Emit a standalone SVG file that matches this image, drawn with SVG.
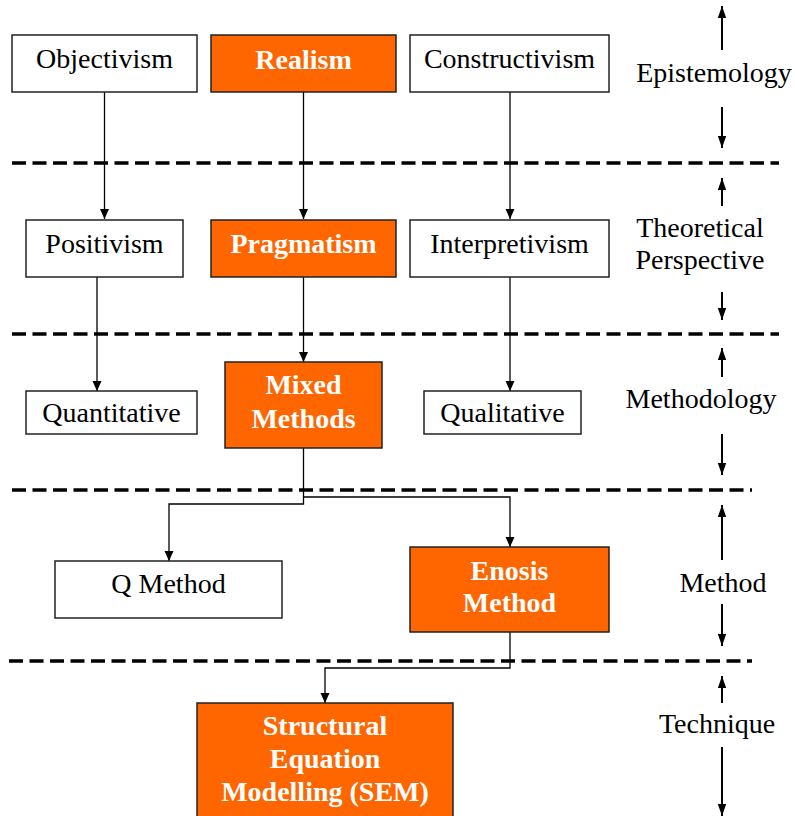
<svg xmlns="http://www.w3.org/2000/svg" width="795" height="816" viewBox="0 0 795 816">
<style>
.box{fill:#fff;stroke:#222;stroke-width:1.5}
.hl{fill:#FF6600;stroke:#222;stroke-width:1.5}
.t{font-family:'Liberation Serif',serif;font-size:28px;font-weight:normal;font-style:normal;fill:#000;text-anchor:middle}
.tb{font-family:'Liberation Serif',serif;font-size:28px;font-weight:bold;fill:#fff;text-anchor:middle}
.dash{stroke:#000;stroke-width:3.5;stroke-dasharray:14 6.5;fill:none}
.con{stroke:#000;stroke-width:1.3;fill:none;marker-end:url(#ah)}
.lab{stroke:#000;stroke-width:2;fill:none;marker-end:url(#ah2)}
</style>
<defs>
<marker id="ah" markerUnits="userSpaceOnUse" markerWidth="10" markerHeight="10" viewBox="0 0 10 10" refX="10" refY="5" orient="auto">
<path d="M0,0.5 L10,5 L0,9.5 Z" fill="#000"/>
</marker>
<marker id="ah2" markerUnits="userSpaceOnUse" markerWidth="12" markerHeight="10" viewBox="0 0 12 10" refX="12" refY="5" orient="auto">
<path d="M0,0.8 L12,5 L0,9.2 Z" fill="#000"/>
</marker>
</defs>
<rect width="795" height="816" fill="#fff"/>

<g id="dividers">
<line class="dash" x1="12" y1="163" x2="779" y2="163"/>
<line class="dash" x1="12" y1="334" x2="779" y2="334"/>
<line class="dash" x1="12" y1="490" x2="752" y2="490"/>
<line class="dash" x1="9" y1="661" x2="752" y2="661"/>
</g>

<g id="connectors">
<line class="con" x1="104.5" y1="92" x2="104.5" y2="219"/>
<line class="con" x1="303.5" y1="92" x2="303.5" y2="219"/>
<line class="con" x1="510" y1="92" x2="510" y2="219"/>
<line class="con" x1="97" y1="277" x2="97" y2="391"/>
<line class="con" x1="303.5" y1="277" x2="303.5" y2="362"/>
<line class="con" x1="510" y1="277" x2="510" y2="391"/>
<polyline class="con" points="303.5,448 303.5,504 169,504 169,561"/>
<polyline class="con" points="303.5,497 510,497 510,547"/>
<polyline class="con" points="510,632 510,668 325,668 325,703"/>
</g>

<g id="level-arrows">
<line class="lab" x1="722" y1="50" x2="722" y2="6"/>
<line class="lab" x1="722" y1="107" x2="722" y2="148"/>
<line class="lab" x1="722" y1="206" x2="722" y2="178"/>
<line class="lab" x1="722" y1="292" x2="722" y2="320"/>
<line class="lab" x1="722" y1="377" x2="722" y2="348"/>
<line class="lab" x1="722" y1="434" x2="722" y2="475"/>
<line class="lab" x1="722" y1="560" x2="722" y2="505"/>
<line class="lab" x1="722" y1="604" x2="722" y2="646"/>
<line class="lab" x1="722" y1="703" x2="722" y2="676"/>
<line class="lab" x1="722" y1="747" x2="722" y2="816"/>
</g>

<g id="level-labels">
<text class="t" x="714" y="82">Epistemology</text>
<text class="t" x="700" y="237">Theoretical</text>
<text class="t" x="700" y="269">Perspective</text>
<text class="t" x="701" y="408">Methodology</text>
<text class="t" x="723" y="592">Method</text>
<text class="t" x="717" y="733">Technique</text>
</g>

<g id="objectivism"><rect class="box" x="12" y="35" width="185" height="57"/><text class="t" x="104.5" y="68">Objectivism</text></g>
<g id="realism"><rect class="hl" x="211" y="35" width="185" height="57"/><text class="tb" x="303.5" y="69">Realism</text></g>
<g id="constructivism"><rect class="box" x="410" y="35" width="199" height="57"/><text class="t" x="509.5" y="68">Constructivism</text></g>

<g id="positivism"><rect class="box" x="26" y="220" width="157" height="57"/><text class="t" x="104.5" y="253">Positivism</text></g>
<g id="pragmatism"><rect class="hl" x="211" y="220" width="185" height="57"/><text class="tb" x="303.5" y="253">Pragmatism</text></g>
<g id="interpretivism"><rect class="box" x="410" y="220" width="199" height="57"/><text class="t" x="509.5" y="253">Interpretivism</text></g>

<g id="quantitative"><rect class="box" x="26" y="391" width="171" height="43"/><text class="t" x="111.5" y="422">Quantitative</text></g>
<g id="mixed-methods"><rect class="hl" x="225" y="362" width="157" height="86"/><text class="tb" x="303.5" y="394">Mixed</text><text class="tb" x="303.5" y="428">Methods</text></g>
<g id="qualitative"><rect class="box" x="424" y="391" width="157" height="43"/><text class="t" x="502.5" y="422">Qualitative</text></g>

<g id="q-method"><rect class="box" x="55" y="561" width="227" height="57"/><text class="t" x="168.5" y="593">Q Method</text></g>
<g id="enosis-method"><rect class="hl" x="410" y="547" width="199" height="85"/><text class="tb" x="509.5" y="580">Enosis</text><text class="tb" x="509.5" y="612">Method</text></g>

<g id="sem"><rect class="hl" x="197" y="703" width="256" height="130"/><text class="tb" x="325" y="735">Structural</text><text class="tb" x="325" y="768">Equation</text><text class="tb" x="325" y="801">Modelling (SEM)</text></g>
</svg>
